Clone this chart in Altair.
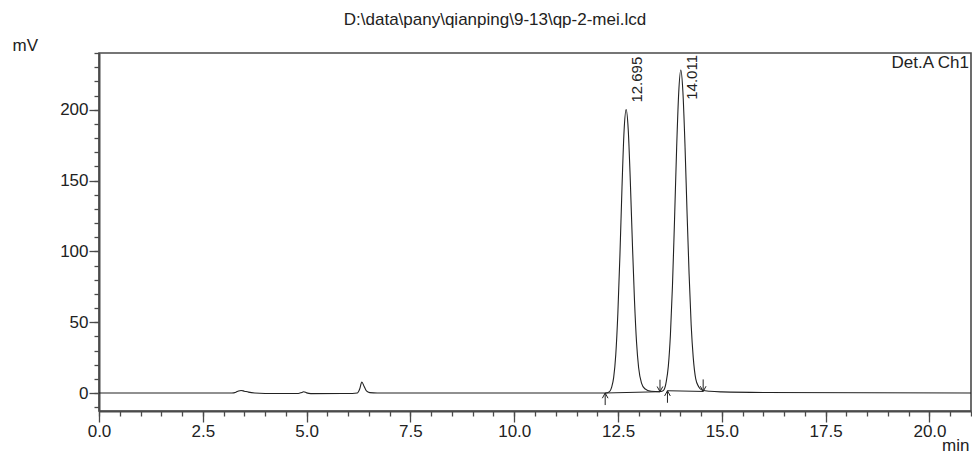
import altair as alt
import pandas as pd

# ---- data ----
time_min = [0.0, 3.2, 3.3, 3.36, 3.42, 3.5, 3.6, 3.75, 4.0, 4.8, 4.88, 4.93, 5.0, 5.1,
            6.1, 6.22, 6.28, 6.33, 6.38, 6.44, 6.52, 6.7, 12.2,
            12.295, 12.345, 12.395, 12.445, 12.495, 12.545, 12.595, 12.645, 12.695,
            12.745, 12.795, 12.845, 12.895, 12.945, 12.995, 13.065, 13.145, 13.295, 13.5,
            13.56, 13.611, 13.661, 13.711, 13.761, 13.811, 13.861, 13.911, 13.961, 14.011,
            14.061, 14.111, 14.161, 14.211, 14.261, 14.311, 14.371, 14.441, 14.531, 14.711,
            15.0, 16.0, 21.0]
signal_mv = [0.0, 0.0, 0.6, 1.4, 1.8, 1.3, 0.6, 0.0, -0.3, -0.3, 0.4, 0.9, 0.1, -0.4,
             -0.3, 0.0, 3.0, 7.8, 5.0, 1.5, 0.3, 0.0, 0.0,
             1.0, 4.0, 11.0, 27.0, 56.0, 97.0, 145.0, 185.0, 200.0,
             186.0, 150.0, 106.0, 66.0, 36.0, 18.0, 7.0, 3.0, 1.2, 0.9,
             1.2, 2.5, 8.0, 19.0, 41.0, 76.0, 123.0, 173.0, 212.0, 228.0,
             213.0, 176.0, 128.0, 84.0, 48.0, 25.0, 10.0, 4.5, 2.0, 1.2,
             0.8, 0.4, 0.0]

peak_times = [12.695, 14.011]
peak_heights = [200.0, 228.0]
peak_labels = ["12.695", "14.011"]

baseline_t = [12.19, 13.51, 13.69, 14.55]
baseline_mv = [0.0, 0.9, 1.6, 1.1]
baseline_seg = [1, 1, 2, 2]
arrow_dir = ["up", "down", "up", "down"]

x_major = [0.0, 2.5, 5.0, 7.5, 10.0, 12.5, 15.0, 17.5, 20.0]
x_minor = [i * 0.5 for i in range(43)]
y_major = [0, 50, 100, 150, 200]
y_minor = list(range(-10, 241, 10))

title_text = "D:\\data\\pany\\qianping\\9-13\\qp-2-mei.lcd"
det_text = "Det.A Ch1"

X_MAX = 21.0
Y_MIN, Y_MAX = -12.7, 240.0
W, H = 872, 358
FONT = "Liberation Sans"
INK = "#222222"
AX = "#4a4a4a"

xs = alt.Scale(domain=[0, X_MAX], nice=False, zero=False)
ys = alt.Scale(domain=[Y_MIN, Y_MAX], nice=False, zero=False)

trace = pd.DataFrame({"t": time_min, "mv": signal_mv})
peaks = pd.DataFrame({"t": peak_times, "h": peak_heights, "lab": peak_labels})
base = pd.DataFrame({"t": baseline_t, "mv": baseline_mv, "seg": baseline_seg, "dir": arrow_dir})
base["tail"] = base.apply(lambda r: r["mv"] - 8.5 if r["dir"] == "up" else r["mv"] + 8.5, axis=1)

axis_x_major = alt.Axis(values=x_major, format=".1f", tickSize=11, labelFont=FONT,
                        labelFontSize=17, labelColor=INK, labelPadding=1, labelFlush=False,
                        labelOverlap=False,
                        title="min", titleFont=FONT, titleFontSize=17, titleFontWeight="normal",
                        titleColor=INK, titleAngle=0, titleAlign="right",
                        titleBaseline="alphabetic",
                        titleX=W - 2, titleY=39, grid=False, orient="bottom", tickColor=AX,
                        tickWidth=1.3, domainColor=AX, domainWidth=2)
axis_x_minor = alt.Axis(values=x_minor, tickSize=5, labels=False, domain=False, title=None,
                        grid=False, orient="bottom", tickColor=AX, tickWidth=1.3)
axis_y_major = alt.Axis(values=y_major, format="d", tickSize=10, labelFont=FONT,
                        labelFontSize=17, labelColor=INK, labelPadding=1, labelFlush=False,
                        title="mV", titleFont=FONT, titleFontSize=17, titleFontWeight="normal",
                        titleColor=INK, titleAngle=0, titleAlign="left", titleBaseline="middle",
                        titleX=-87, titleY=-8, grid=False, orient="left", tickColor=AX,
                        tickWidth=1.3, domainColor=AX, domainWidth=2)
axis_y_minor = alt.Axis(values=y_minor, tickSize=5, labels=False, domain=False, title=None,
                        grid=False, orient="left", tickColor=AX, tickWidth=1.3)

line = alt.Chart(trace).mark_line(color=INK, strokeWidth=1.1, interpolate="monotone").encode(
    x=alt.X("t:Q", scale=xs, axis=axis_x_major),
    y=alt.Y("mv:Q", scale=ys, axis=axis_y_major),
)
minor = alt.Chart(trace).mark_line(strokeOpacity=0).encode(
    x=alt.X("t:Q", scale=xs, axis=axis_x_minor),
    y=alt.Y("mv:Q", scale=ys, axis=axis_y_minor),
)

bl = alt.Chart(base).mark_line(color=INK, strokeWidth=1).encode(
    x=alt.X("t:Q", scale=xs, axis=None),
    y=alt.Y("mv:Q", scale=ys, axis=None),
    detail="seg:N",
)
shafts = alt.Chart(base).mark_rule(color=INK, strokeWidth=1).encode(
    x=alt.X("t:Q", scale=xs, axis=None),
    y=alt.Y("mv:Q", scale=ys, axis=None),
    y2="tail:Q",
)
up_path = "M-0.6,1.1L0,0L0.6,1.1"
down_path = "M-0.6,-1.1L0,0L0.6,-1.1"
heads = alt.Chart(base).mark_point(filled=False, color=INK, strokeWidth=1, opacity=1).encode(
    x=alt.X("t:Q", scale=xs, axis=None),
    y=alt.Y("mv:Q", scale=ys, axis=None),
    shape=alt.Shape("dir:N", scale=alt.Scale(domain=["up", "down"], range=[up_path, down_path]),
                    legend=None),
    size=alt.value(90),
)

labels = alt.Chart(peaks).transform_calculate(
    ly="min(datum.h + 5, 207)"
).mark_text(angle=270, align="left", baseline="middle", dy=11, font=FONT, fontSize=15,
            color=INK).encode(
    x=alt.X("t:Q", scale=xs, axis=None),
    y=alt.Y("ly:Q", scale=ys, axis=None),
    text="lab:N",
)

det = alt.Chart(pd.DataFrame({"s": [det_text]})).mark_text(
    align="right", baseline="middle", font=FONT, fontSize=17, color=INK
).encode(x=alt.value(W - 2), y=alt.value(10), text="s:N")

title = alt.Chart(pd.DataFrame({"s": [title_text]})).mark_text(
    align="center", baseline="middle", font=FONT, fontSize=17, color=INK
).encode(x=alt.value(396), y=alt.value(-33), text="s:N")

chart = alt.layer(line, minor, bl, shafts, heads, labels, det, title).resolve_axis(
    x="independent", y="independent"
).properties(
    width=W, height=H,
    autosize=alt.AutoSizeParams(type="none"),
    padding={"left": 91, "top": 45, "right": 1, "bottom": 42},
).configure_view(stroke=AX, strokeWidth=1.6)

chart.save("out.html", embed_options={"renderer": "svg", "actions": False})
